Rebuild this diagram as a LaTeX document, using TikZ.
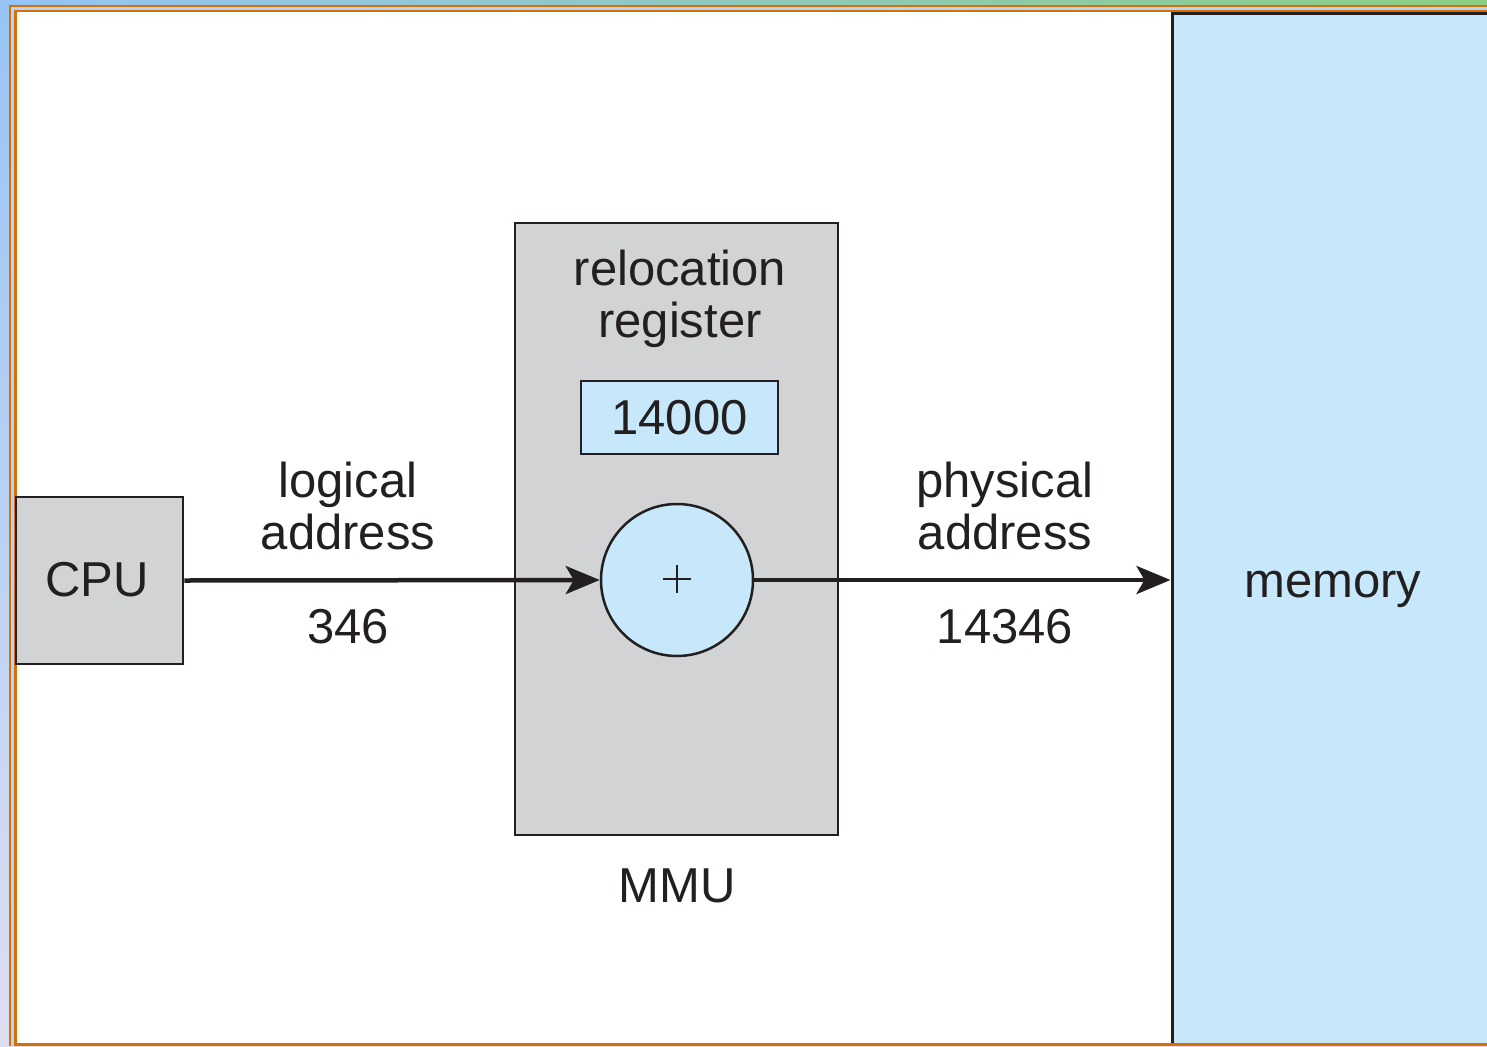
\documentclass[tikz,border=0pt]{standalone}
\usepackage{fontspec}
\setmainfont{Liberation Sans}
\usetikzlibrary{arrows.meta}
\definecolor{bgblue}{RGB}{150,196,245}
\definecolor{bglav}{RGB}{222,222,242}
\definecolor{bggreen}{RGB}{140,205,130}
\definecolor{frameor}{RGB}{214,110,10}
\definecolor{boxgray}{RGB}{209,211,212}
\definecolor{lblue}{RGB}{199,232,250}
\definecolor{ink}{RGB}{35,31,32}
\tikzset{
  lbl/.style={font=\fontsize{49}{57}\selectfont, text=ink, inner sep=0pt, align=center},
  grayblk/.style={fill=boxgray, draw=ink, line width=2.5pt},
  blueblk/.style={fill=lblue, draw=ink, line width=2.5pt},
  flow/.style={draw=ink, line width=4.5pt, -{Stealth[length=34pt,width=28pt,inset=8pt]}}
}
\begin{document}
\begin{tikzpicture}[x=1pt,y=-1pt]
\useasboundingbox (0,0) rectangle (1487,1046);
% background frame
\shade[top color=bgblue, bottom color=bglav] (0,0) rectangle (1487,1046);
\shade[left color=bgblue, right color=bggreen] (0,0) rectangle (1487,6);
\fill[frameor] (9,5) rectangle (1487,1046);
\fill[bgblue!70!white] (11,7.5) rectangle (1487,1046);
\fill[frameor] (14,10) rectangle (1487,1046);
\fill[white] (16.5,12.5) rectangle (1487,1043);
% memory
\fill[lblue] (1172,13) rectangle (1487,1043);
\draw[ink, line width=3pt] (1172,1043) -- (1172,14) -- (1487,14);
\node[lbl] (mem) at (1333,589) {memory};
\coordinate (memin) at (1170.5,580);
% CPU
\node[grayblk, minimum width=167pt, minimum height=167pt, inner sep=0pt] (cpu) at (99.5,580.5) {};
\node[lbl] (cputxt) at (97,580) {CPU};
% MMU
\node[grayblk, minimum width=323pt, minimum height=612pt, inner sep=0pt] (mmu) at (676.5,529) {};
\node[lbl] (reloc) at (680,299) {relocation\\[-5pt]register};
\node[blueblk, minimum width=197pt, minimum height=73pt, inner sep=0pt, font=\fontsize{49}{57}\selectfont, text=ink] (reg) at (679.5,417.5) {14000};
\node[blueblk, circle, minimum size=152pt, inner sep=0pt] (adder) at (677,580) {};
\draw[ink, line width=1.5pt] (663,579) -- (691,579) (677,565) -- (677,593);
\node[lbl] (mmulbl) at (677,886) {MMU};
% labels
\node[lbl] (logical) at (348,506) {logical\\[-5pt]address};
\node[lbl] (l346) at (348,627) {346};
\node[lbl] (physical) at (1005,506) {physical\\[-5pt]address};
\node[lbl] (p14346) at (1005,627) {14346};
% arrows
\draw[flow] (cpu.east) -- (adder.west);
\draw[flow] (adder.east) -- (memin);
\end{tikzpicture}
\end{document}
